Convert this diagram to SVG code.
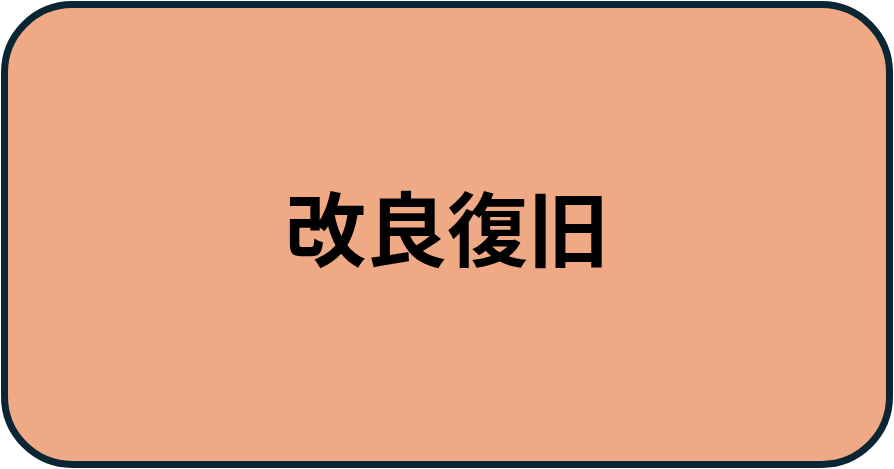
<svg xmlns="http://www.w3.org/2000/svg" width="894" height="469" viewBox="0 0 894 469">
<style>
.node-shape{fill:#f0a985;stroke:#0a2533;stroke-width:7}
.label{font-family:"Noto Sans CJK JP","Noto Sans CJK SC",sans-serif;font-weight:bold;font-size:81px;fill:#000;text-anchor:middle}
</style>
<g id="node-1">
<rect class="node-shape" x="4.5" y="4.5" width="885" height="460" rx="68" ry="68"/>
<text class="label" x="447" y="260">改良復旧</text>
</g>
<g id="connectors"/>
</svg>
